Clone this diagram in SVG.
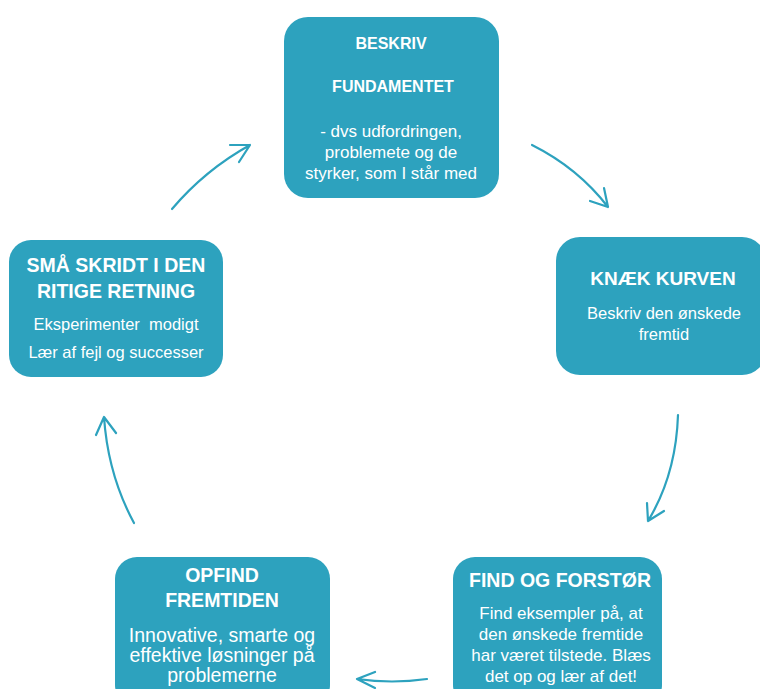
<svg xmlns="http://www.w3.org/2000/svg" width="760" height="689" viewBox="0 0 760 689">
<style>
.box{fill:#2DA2BE}
.t{font-family:"Liberation Sans",Arial,sans-serif;fill:#fff;text-anchor:middle}
.b{font-weight:bold}
.con{fill:none;stroke:#2DA2BE;stroke-width:2.2;stroke-linecap:round;stroke-linejoin:round}
</style>
<rect width="760" height="689" fill="#fff"/>
<g id="node-beskriv">
<rect class="box" x="284" y="17" width="215" height="181" rx="24"/>
<text class="t b" x="391" y="49" font-size="16">BESKRIV</text>
<text class="t b" x="393" y="92" font-size="16">FUNDAMENTET</text>
<text class="t" x="391" y="137" font-size="17">- dvs udfordringen,</text>
<text class="t" x="391" y="158" font-size="17">problemete og de</text>
<text class="t" x="391" y="179" font-size="17">styrker, som I står med</text>
</g>
<g id="node-knaek">
<rect class="box" x="556" y="237" width="210" height="138" rx="24"/>
<text class="t b" x="663" y="285" font-size="19">KNÆK KURVEN</text>
<text class="t" x="664" y="319" font-size="16.5">Beskriv den ønskede</text>
<text class="t" x="664" y="340" font-size="16.5">fremtid</text>
</g>
<g id="node-smaa">
<rect class="box" x="9" y="240" width="214" height="137" rx="22"/>
<text class="t b" x="116" y="272" font-size="19.5">SMÅ SKRIDT I DEN</text>
<text class="t b" x="116" y="298" font-size="19.5">RITIGE RETNING</text>
<text class="t" x="116" y="330" font-size="16.5" xml:space="preserve">Eksperimenter  modigt</text>
<text class="t" x="116" y="358" font-size="16.5">Lær af fejl og successer</text>
</g>
<g id="node-find">
<rect class="box" x="453" y="557" width="209" height="150" rx="22"/>
<text class="t b" x="560" y="587" font-size="19.5">FIND OG FORSTØR</text>
<text class="t" x="561" y="619" font-size="17">Find eksempler på, at</text>
<text class="t" x="561" y="640" font-size="17">den ønskede fremtide</text>
<text class="t" x="561" y="661" font-size="17">har været tilstede. Blæs</text>
<text class="t" x="561" y="682" font-size="17">det op og lær af det!</text>
</g>
<g id="node-opfind">
<rect class="box" x="115" y="557" width="215" height="150" rx="22"/>
<text class="t b" x="222" y="582" font-size="19.5">OPFIND</text>
<text class="t b" x="222" y="607" font-size="19.5">FREMTIDEN</text>
<text class="t" x="222" y="642" font-size="19.5">Innovative, smarte og</text>
<text class="t" x="222" y="662" font-size="19.5">effektive løsninger på</text>
<text class="t" x="222" y="682" font-size="19.5">problemerne</text>
</g>
<g id="connectors">
<path class="con" d="M172,209 Q205,170 250,145 M230,145 L250,145 L239,162"/>
<path class="con" d="M532,145 Q578,168 608,207 M590,201 L608,207 L604,188"/>
<path class="con" d="M678,415 Q676,475 648,521 M647,503 L648,521 L664,511"/>
<path class="con" d="M427,679 Q392,684 357,679 M375,672 L357,679 L375,688"/>
<path class="con" d="M134,523 Q108,475 104,417 M96,435 L104,417 L116,433"/>
</g>
</svg>
